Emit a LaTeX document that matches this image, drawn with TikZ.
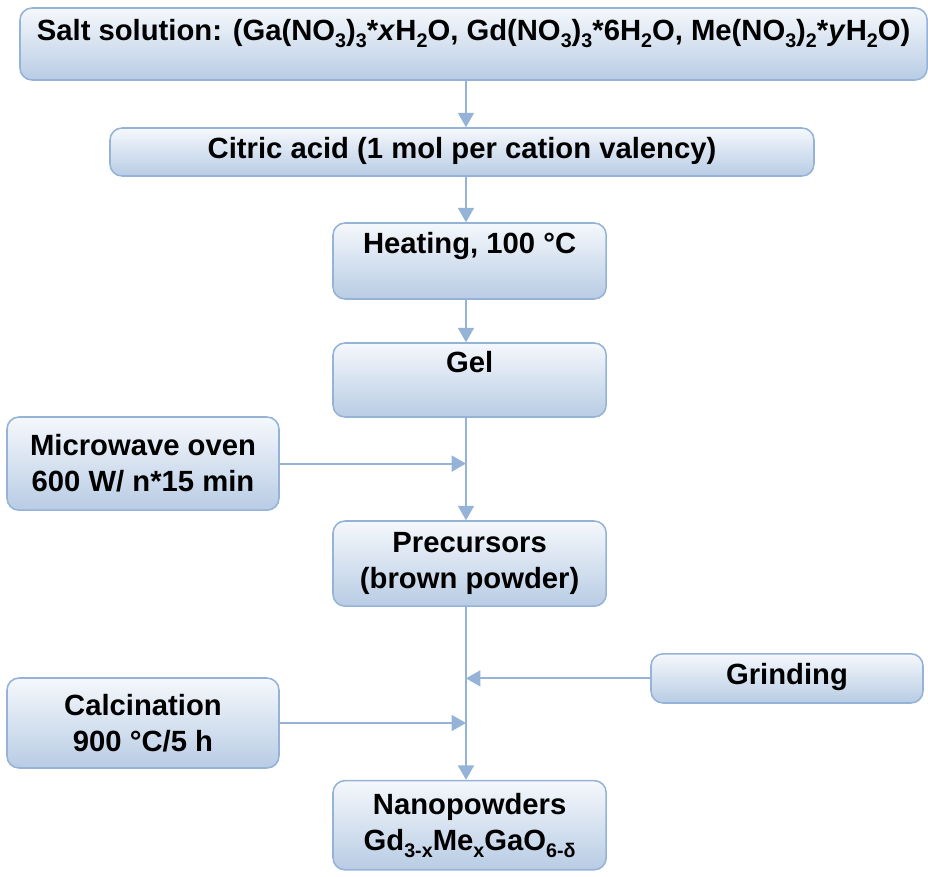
\documentclass[tikz,border=0pt]{standalone}
\usepackage{fontspec}
\setmainfont{Liberation Sans}
\usetikzlibrary{arrows.meta}
\definecolor{boxline}{RGB}{149,179,215}
\definecolor{boxtop}{RGB}{245,248,252}
\definecolor{boxbot}{RGB}{184,204,228}
\definecolor{arrowblue}{RGB}{149,179,215}
\newcommand{\lo}[1]{\raisebox{-0.25em}{\fontsize{14}{14}\selectfont #1}}

\begin{document}
\begin{tikzpicture}[>={Triangle[length=0.36cm,width=0.4cm]}]
	\useasboundingbox (0,0) rectangle (23.2,-21.9);
	\begin{scope}
	\tikzstyle{every node}=[align=center, inner sep=0pt, font=\fontsize{20.8}{25.6}\selectfont\bfseries]
	\tikzstyle{stage}=[draw=boxline, line width=1.1pt, rounded corners=0.3cm, top color=boxtop, bottom color=boxbot]
	\tikzstyle{flow}=[->, color=arrowblue, line width=1.3pt]
		\coordinate (spine) at (11.65, 0);
		\node[stage, minimum width=22.68cm, minimum height=1.8cm, text height=0.55cm, text depth=0.75cm] (salt) at (11.84, -1.1)
			{Salt solution: (Ga(NO\lo{3})\lo{3}*\textit{x}H\lo{2}O, Gd(NO\lo{3})\lo{3}*6H\lo{2}O, Me(NO\lo{3})\lo{2}*\textit{y}H\lo{2}O)};
		\node[stage, minimum width=17.6cm, minimum height=1.2cm, text height=0.55cm, text depth=0.25cm] (citric) at (11.55, -3.8) {Citric acid (1 mol per cation valency)};
		\node[stage, minimum width=6.83cm, minimum height=1.9cm, text height=0.55cm, text depth=0.95cm] (heat) at (11.74, -6.525) {Heating, 100 °C};
		\node[stage, minimum width=6.83cm, minimum height=1.85cm, text height=0.55cm, text depth=0.95cm] (gel) at (11.74, -9.5) {Gel};
		\node[stage, minimum width=6.8cm, minimum height=2.33cm] (micro) at (3.575, -11.59) {Microwave oven\\600 W/ n*15 min};
		\node[stage, minimum width=6.83cm, minimum height=2.13cm] (prec) at (11.74, -14.09) {Precursors\\(brown powder)};
		\node[stage, minimum width=6.8cm, minimum height=1.23cm, text height=0.55cm, text depth=0.23cm] (grind) at (19.675, -16.96) {Grinding};
		\node[stage, minimum width=6.8cm, minimum height=2.25cm] (calc) at (3.575, -18.075) {Calcination\\900 °C/5 h};
		\node[stage, minimum width=6.83cm, minimum height=2.23cm] (nano) at (11.74, -20.63)
			{Nanopowders\\Gd\lo{3-x}Me\lo{x}GaO\lo{6-δ}};

		\draw[flow] (salt.south -| spine) to (citric.north -| spine);
		\draw[flow] (citric.south -| spine) to (heat.north -| spine);
		\draw[flow] (heat.south -| spine) to (gel.north -| spine);
		\draw[flow] (gel.south -| spine) to (prec.north -| spine);
		\draw[flow] (micro.east) to (micro.east -| spine);
		\draw[flow] (prec.south -| spine) to (nano.north -| spine);
		\draw[flow] (grind.west) to (grind.west -| spine);
		\draw[flow] (calc.east) to (calc.east -| spine);
	\end{scope}
\end{tikzpicture}
\end{document}
